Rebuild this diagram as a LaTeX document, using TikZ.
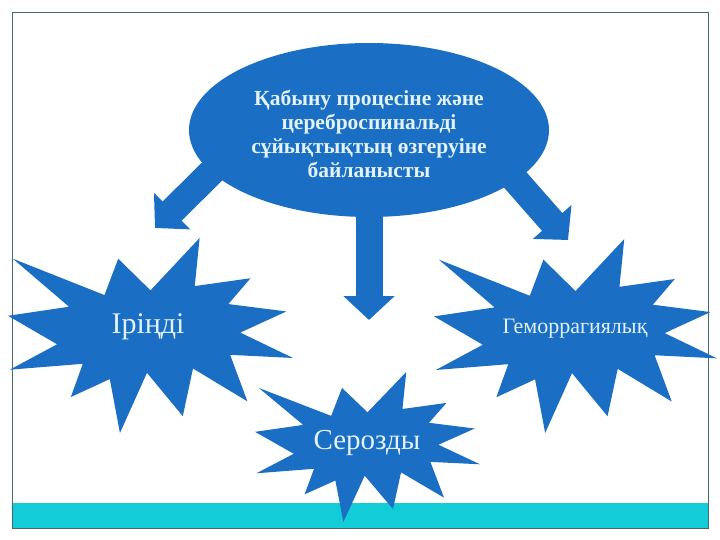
\documentclass[tikz,border=0pt]{standalone}
\usepackage{fontspec}
\setmainfont{Liberation Serif}
\usetikzlibrary{shapes.geometric,arrows.meta}

\definecolor{burstblue}{RGB}{26,110,196}
\definecolor{lighttext}{RGB}{226,242,246}
\definecolor{bandcyan}{RGB}{18,204,216}
\definecolor{framegray}{RGB}{72,104,112}

% explosion outline: left, top, width, height
\newcommand{\explosionshape}[4]{%
  \begin{scope}[shift={(#1,#2)},xscale=#3,yscale=#4]
    \fill[burstblue] (0.5,0.2685) -- (0.6723,0) -- (0.6553,0.2465)
      -- (0.8509,0.2063) -- (0.7732,0.3387) -- (0.9767,0.3767)
      -- (0.8151,0.4850) -- (1,0.6153) -- (0.7795,0.5992)
      -- (0.8400,0.8377) -- (0.6491,0.6693) -- (0.6133,0.9138)
      -- (0.4876,0.6914) -- (0.3928,1) -- (0.3572,0.7235)
      -- (0.2205,0.8156) -- (0.2624,0.6452) -- (0.00625,0.6753)
      -- (0.1723,0.5451) -- (0,0.3988) -- (0.2142,0.3526)
      -- (0.0171,0.1063) -- (0.3385,0.2926) -- (0.3867,0.1063) -- cycle;
  \end{scope}}

\begin{document}
\begin{tikzpicture}[x=1pt,y=-1pt,
    blockarrow/.style={draw=burstblue, line width=27pt,
      -{Triangle[width=50pt,length=24pt]}, shorten <=-14pt},
    labeltext/.style={text=lighttext, align=center}]

    \useasboundingbox (0,0) rectangle (720,540);

    % Frame and bottom band
    \fill[bandcyan] (12,503) rectangle (708,528);
    \draw[framegray, line width=0.8pt] (12,12) rectangle (708,528);

    % Central ellipse
    \node[ellipse, fill=burstblue, minimum width=360pt, minimum height=174pt,
          inner sep=0pt] (cause) at (369,130) {};

    % Arrows
    \coordinate (tipL) at (155,228);
    \coordinate (tipM) at (369,320);
    \coordinate (tipR) at (568,240);
    \draw[blockarrow] (cause.195) -- (tipL);
    \draw[blockarrow] (cause.south) -- (tipM);
    \draw[blockarrow] (cause.341) -- (tipR);

    \node[labeltext, font=\fontsize{21.5}{24}\selectfont\bfseries] (causetext)
      at (369,134) {Қабыну процесіне және\\цереброспинальді\\сұйықтықтың өзгеруіне\\байланысты};

    % Explosions
    \explosionshape{8}{238}{285}{195}
    \explosionshape{434}{239}{283}{194}
    \explosionshape{255}{372}{225}{150}

    \node[labeltext, font=\fontsize{30}{34}\selectfont] (purulent) at (148,327) {Іріңді};
    \node[labeltext, font=\fontsize{22}{26}\selectfont] (haemorrhagic) at (575,329) {Геморрагиялық};
    \node[labeltext, font=\fontsize{29}{33}\selectfont] (serous) at (367,443) {Серозды};

\end{tikzpicture}
\end{document}
